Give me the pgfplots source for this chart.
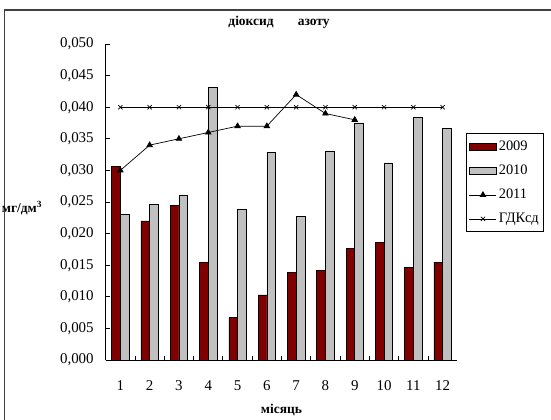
\documentclass[border=0pt]{standalone}
\usepackage{fontspec}
\setmainfont{Liberation Serif}
\usepackage{pgfplots}
\usepackage{pgfplotstable}
\pgfplotsset{compat=1.18}

\definecolor{bar09}{HTML}{800000}
\definecolor{bar10}{HTML}{C0C0C0}
\definecolor{framegray}{HTML}{404040}

\pgfplotsset{
  barlegend/.style={legend image code/.code={%
      \draw[##1] (0bp,-3.5bp) rectangle (27bp,3.5bp);}},
  linelegend/.style={legend image code/.code={%
      \draw[mark repeat=2, mark phase=2, ##1]
        plot coordinates {(0bp,0bp) (13.5bp,0bp) (27bp,0bp)};}},
}

% month, 2009, 2010
\pgfplotstableread{
m   y09     y10
1   0.0306  0.0230
2   0.0220  0.0246
3   0.0245  0.0260
4   0.0154  0.0431
5   0.0067  0.0238
6   0.0103  0.0329
7   0.0139  0.0227
8   0.0142  0.0331
9   0.0176  0.0375
10  0.0186  0.0312
11  0.0147  0.0384
12  0.0155  0.0367
}\nodata

\pgfplotstableread{
m   y11
1   0.030
2   0.034
3   0.035
4   0.036
5   0.037
6   0.037
7   0.042
8   0.039
9   0.038
}\nodatalast

\pgfplotstableread{
m   gdk
1   0.040
2   0.040
3   0.040
4   0.040
5   0.040
6   0.040
7   0.040
8   0.040
9   0.040
10  0.040
11  0.040
12  0.040
}\gdk

\begin{document}
\begin{tikzpicture}
  \draw[line width=1.6bp, framegray] (-101bp,-90bp) rectangle (480bp,350bp);
  \begin{axis}[
      scale only axis,
      width=351.6bp, height=316bp,
      xmin=0.5, xmax=12.5,
      ymin=0, ymax=0.05,
      axis x line*=bottom,
      axis y line*=left,
      axis line style={black, line width=0.8bp},
      xtick={1,...,12},
      major x tick style={draw=none},
      minor xtick={1.5,2.5,...,11.5},
      minor tick length=4.3bp,
      ytick={0,0.005,...,0.0501},
      major tick length=4.7bp,
      tick align=inside,
      tick style={black, line width=0.8bp},
      scaled y ticks=false,
      /pgf/number format/assume math mode=true,
      yticklabel style={xshift=-8.5bp, /pgf/number format/fixed,
        /pgf/number format/fixed zerofill,
        /pgf/number format/precision=3, /pgf/number format/use comma},
      tick label style={font=\fontsize{15}{17}\selectfont},
      xticklabel style={yshift=-17bp},
      title={\textbf{діоксид\hspace{1.8em}азоту}},
      title style={font=\fontsize{13.5}{15}\selectfont, at={(axis description cs:0.493,1.0506)}, anchor=center},
      xlabel={\textbf{місяць}},
      xlabel style={font=\fontsize{13.5}{15}\selectfont, at={(axis description cs:0.5,-0.158)}, anchor=center},
      ylabel={\textbf{мг/дм\textsuperscript{3}}},
      ylabel style={font=\fontsize{13.5}{15}\selectfont, rotate=-90, at={(axis description cs:-0.238,0.481)}, anchor=center},
      legend style={at={(axis description cs:1.0239,0.7174)}, anchor=north west,
        draw=black, line width=0.8bp, fill=white,
        font=\fontsize{14.5}{16}\selectfont,
        inner xsep=3bp, inner ysep=5.5bp, row sep=9bp,
        cells={anchor=west}},
      legend cell align=left,
    ]
    \addplot[ybar, bar width=8.7bp, bar shift=-4.35bp, fill=bar09, draw=black,
      line width=0.6bp, barlegend]
      table[x=m, y=y09] {\nodata};
    \addlegendentry{2009}
    \addplot[ybar, bar width=8.7bp, bar shift=4.35bp, fill=bar10, draw=black,
      line width=0.6bp, barlegend]
      table[x=m, y=y10] {\nodata};
    \addlegendentry{2010}
    \addplot[sharp plot, black, line width=0.7bp, mark=triangle*, mark size=3.2bp,
      mark options={solid, fill=black}, linelegend]
      table[x=m, y=y11] {\nodatalast};
    \addlegendentry{2011}
    \addplot[sharp plot, black, line width=0.7bp, mark=x, mark size=3bp,
      mark options={solid}, linelegend]
      table[x=m, y=gdk] {\gdk};
    \addlegendentry{ГДКсд}
  \end{axis}
  \pgfresetboundingbox
  \useasboundingbox (-105.7bp,-60bp) rectangle (445.3bp,360bp);
\end{tikzpicture}
\end{document}
